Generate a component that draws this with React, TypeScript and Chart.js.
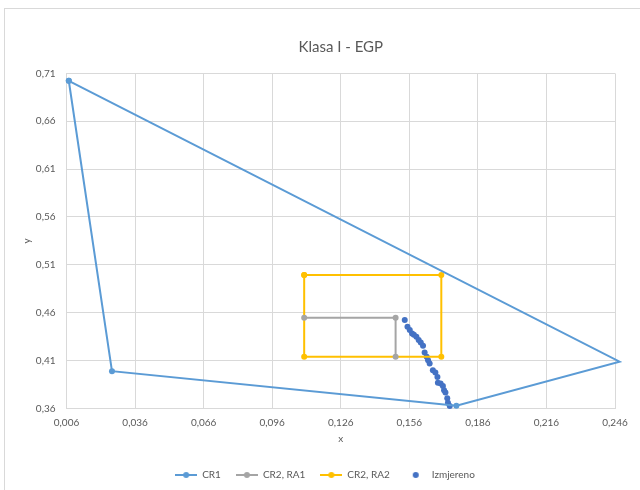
import React, { useEffect, useRef } from "react";
import { Chart, registerables } from "chart.js";

Chart.register(...registerables);

const chartTitle = "Klasa I - EGP";
const xAxisTitle = "x";
const yAxisTitle = "y";

const xTickValues = [0.006, 0.036, 0.066, 0.096, 0.126, 0.156, 0.186, 0.216, 0.246];
const yTickValues = [0.36, 0.41, 0.46, 0.51, 0.56, 0.61, 0.66, 0.71];

const seriesNames = ["CR1", "CR2, RA1", "CR2, RA2", "Izmjereno"];
const seriesColors = ["#5B9BD5", "#A5A5A5", "#FFC000", "#4472C4"];

// CR1 polygon
const cr1X = [0.007, 0.0259, 0.1766, 0.248, 0.007];
const cr1Y = [0.7023, 0.3988, 0.3627, 0.4088, 0.7023];

// CR2, RA1
const ra1X = [0.11, 0.15, 0.15];
const ra1Y = [0.4547, 0.4547, 0.4138];

// CR2, RA2
const ra2X = [0.11, 0.17, 0.17, 0.11, 0.11];
const ra2Y = [0.4994, 0.4994, 0.4138, 0.4138, 0.4994];

// Izmjereno (measured)
const measX = [
  0.154, 0.1552, 0.1562, 0.1572, 0.158, 0.1591, 0.1601, 0.161, 0.162, 0.1627, 0.1636, 0.1642,
  0.1649, 0.1663, 0.1674, 0.1683, 0.1685, 0.1697, 0.1707, 0.1712, 0.1718, 0.1726, 0.1729, 0.1737,
];
const measY = [
  0.4522, 0.4452, 0.4418, 0.4382, 0.4368, 0.4347, 0.4313, 0.4288, 0.4253, 0.4183, 0.4138, 0.4103,
  0.4068, 0.3998, 0.3973, 0.3928, 0.3868, 0.3858, 0.3834, 0.3789, 0.3764, 0.3705, 0.3659, 0.3624,
];

const toPts = (xs: number[], ys: number[]) => xs.map((x, i) => ({ x, y: ys[i] }));

const FONT = "Lato, 'Liberation Sans', sans-serif";
const TEXT = "#595959";
const GRID = "#D9D9D9";

function makeIcon(color: string, withLine: boolean) {
  const c = document.createElement("canvas");
  c.width = 22;
  c.height = 8;
  const g = c.getContext("2d")!;
  if (withLine) {
    g.strokeStyle = color;
    g.lineWidth = 2;
    g.beginPath();
    g.moveTo(0, 4);
    g.lineTo(22, 4);
    g.stroke();
  }
  g.fillStyle = color;
  g.beginPath();
  g.arc(11, 4, 3, 0, Math.PI * 2);
  g.fill();
  return c;
}

export default function App() {
  const ref = useRef<HTMLCanvasElement | null>(null);

  useEffect(() => {
    if (!ref.current) return;
    const icons = seriesColors.map((c, i) => makeIcon(c, i < 3));
    const lineDs = (i: number, data: { x: number; y: number }[]) => ({
      label: seriesNames[i],
      data,
      showLine: true,
      borderColor: seriesColors[i],
      backgroundColor: seriesColors[i],
      borderWidth: 2,
      pointRadius: 3,
      pointBorderWidth: 0,
      pointHoverRadius: 3,
      clip: false as const,
    });
    const chart = new Chart(ref.current, {
      type: "scatter",
      data: {
        datasets: [
          lineDs(0, toPts(cr1X, cr1Y)),
          lineDs(1, toPts(ra1X, ra1Y)),
          lineDs(2, toPts(ra2X, ra2Y)),
          {
            label: seriesNames[3],
            data: toPts(measX, measY),
            showLine: false,
            borderColor: seriesColors[3],
            backgroundColor: seriesColors[3],
            pointRadius: 3,
            pointBorderWidth: 0,
            clip: false as const,
          },
        ],
      },
      options: {
        animation: false,
        responsive: true,
        maintainAspectRatio: false,
        layout: { padding: { left: 35, right: 25, top: 0, bottom: 0 } },
        plugins: {
          tooltip: { enabled: false },
          title: {
            display: true,
            fullSize: false,
            text: chartTitle,
            color: TEXT,
            font: { family: FONT, size: 15, weight: "normal" },
            padding: { top: 38, bottom: 17.4 },
          },
          legend: {
            display: true,
            position: "bottom",
            labels: {
              usePointStyle: true,
              pointStyleWidth: 22,
              padding: 15,
              color: TEXT,
              font: { family: FONT, size: 10 },
              generateLabels: (ch: any) => {
                const items = (Chart.defaults.plugins.legend.labels as any).generateLabels(ch);
                return items.map((it: any, i: number) => ({ ...it, pointStyle: icons[i] }));
              },
            },
          },
        },
        scales: {
          x: {
            type: "linear",
            min: xTickValues[0],
            max: xTickValues[xTickValues.length - 1],
            afterBuildTicks: (s: any) => {
              s.ticks = xTickValues.map((v) => ({ value: v }));
            },
            afterFit: (s: any) => {
              s.height = 46.7;
            },
            grid: { color: GRID, drawTicks: false },
            border: { color: GRID },
            ticks: {
              padding: 8,
              color: TEXT,
              font: { family: FONT, size: 10 },
              maxRotation: 0,
              autoSkip: false,
              callback: (v: any) => Number(v).toFixed(3).replace(".", ","),
            },
            title: {
              display: true,
              text: xAxisTitle,
              color: TEXT,
              font: { family: FONT, size: 10 },
              padding: { top: 0, bottom: 10.4 },
            },
          },
          y: {
            type: "linear",
            min: yTickValues[0],
            max: yTickValues[yTickValues.length - 1],
            afterBuildTicks: (s: any) => {
              s.ticks = yTickValues.map((v) => ({ value: v }));
            },
            afterFit: (s: any) => {
              s.width = 31.5;
            },
            grid: { color: GRID, drawTicks: false },
            border: { color: GRID },
            ticks: {
              padding: 11,
              color: TEXT,
              font: { family: FONT, size: 10 },
              autoSkip: false,
              callback: (v: any) => Number(v).toFixed(2).replace(".", ","),
            },
            title: {
              display: true,
              text: yAxisTitle,
              color: TEXT,
              font: { family: FONT, size: 10 },
              padding: { top: -14, bottom: 0 },
            },
          },
        },
      },
    });
    return () => chart.destroy();
  }, []);

  return (
    <div style={{ position: "absolute", left: 0, top: 0, width: 640, height: 490, background: "#fff", overflow: "hidden" }}>
      <div
        style={{
          position: "absolute",
          left: 4,
          top: 8,
          width: 660,
          height: 500,
          borderTop: `1px solid ${GRID}`,
          borderLeft: `1px solid ${GRID}`,
        }}
      />
      <div style={{ position: "absolute", left: 0, top: 0, width: 640, height: 490 }}>
        <canvas ref={ref} />
      </div>
    </div>
  );
}
